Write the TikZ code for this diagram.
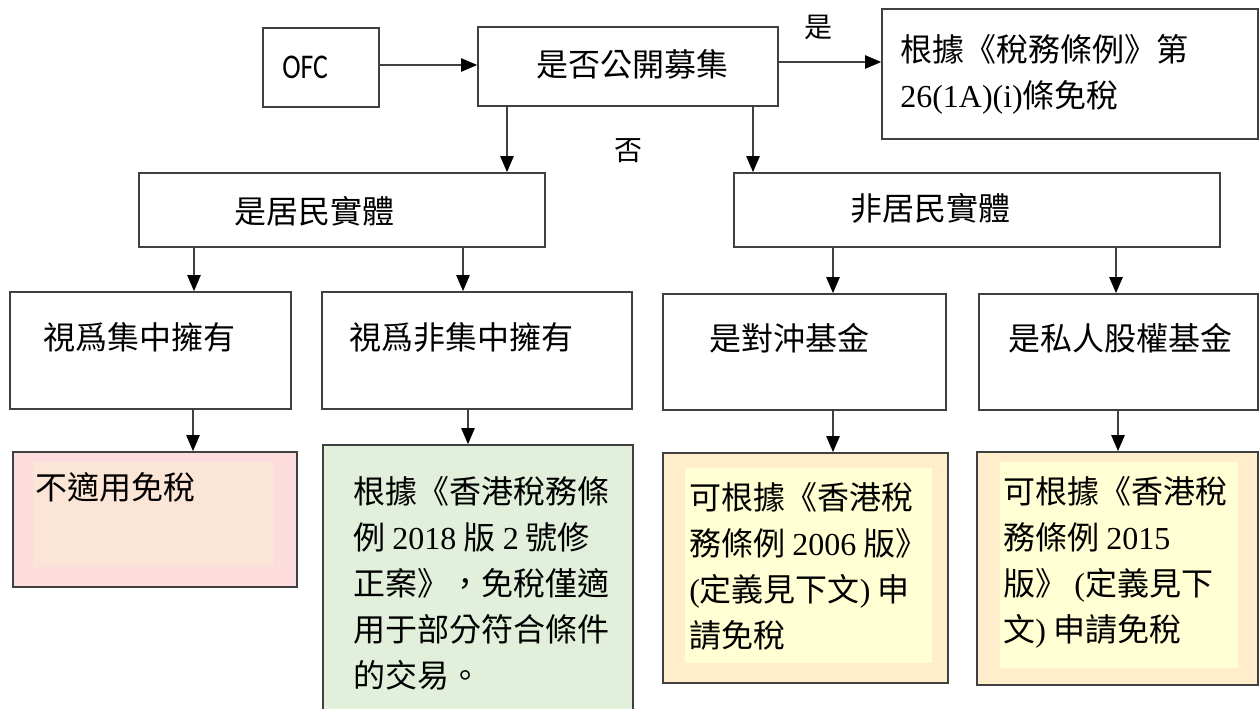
\documentclass[tikz,border=0pt]{standalone}
\usepackage{fontspec}
\setmainfont{Liberation Serif}
\newfontfamily\cjk{Noto Sans CJK TC}
\newfontfamily\ofcfont{Carlito}
\usetikzlibrary{arrows.meta,fit}
\definecolor{linec}{HTML}{404040}
\definecolor{pinkO}{HTML}{FCDCDC}
\definecolor{pinkI}{HTML}{FBE5D6}
\definecolor{greenF}{HTML}{E2EFDA}
\definecolor{yelO}{HTML}{FFEDCB}
\definecolor{yelI}{HTML}{FFFFD3}
\newcommand{\latn}[1]{{\rmfamily #1}}
\begin{document}
\begin{tikzpicture}[x=0.75pt,y=-0.75pt,
  box/.style={draw=linec, line width=1.3pt, inner sep=0pt, rectangle},
  arr/.style={draw=linec, line width=1.1pt, -{Triangle[width=10pt,length=12pt,fill=black,color=black]}},
  txt/.style={inner sep=0pt, font=\cjk\fontsize{24}{34.5}\selectfont, align=left, text=black},
  lbl/.style={inner sep=0pt, font=\cjk\fontsize{21}{25}\selectfont, text=black}]
\useasboundingbox (0,0) rectangle (1260,709);
\fill[white] (0,0) rectangle (1260,709);
% boxes
\node[box, fit={(263,28)(379,107)}] (ofc) {};
\node[box, fit={(478,27)(778,106)}] (pub) {};
\node[box, fit={(882,9)(1258,139)}] (exm) {};
\node[box, fit={(139,173)(545,247)}] (res) {};
\node[box, fit={(734,173)(1220,247)}] (nres) {};
\node[box, fit={(10,292)(291,409)}] (conc) {};
\node[box, fit={(322,292)(632,409)}] (nconc) {};
\node[box, fit={(663,294)(946,410)}] (hedge) {};
\node[box, fit={(979,294)(1258,410)}] (pe) {};
\node[box, fill=pinkO, fit={(13,452)(297,587)}] (na) {};
\fill[pinkI] (33,462) rectangle (273,567);
\node[box, fill=greenF, fit={(323,445)(633,725)}] (part) {};
\node[box, fill=yelO, fit={(663,453)(948,683)}] (app6) {};
\fill[yelI] (685,468) rectangle (932,663);
\node[box, fill=yelO, fit={(977,452)(1258,685)}] (app15) {};
\fill[yelI] (1000,462) rectangle (1238,668);
% texts
\node[txt, anchor=west] (tofc) at (282,67) {\ofcfont\fontsize{26}{30}\selectfont\scalebox{0.8}[1]{OFC}};
\node[txt] (tpub) at (632,64) {是否公開募集};
\node[txt, anchor=north west] (texm) at (900,34) {根據《稅務條例》第\\\latn{26(1A)(i)}條免稅};
\node[txt] (tres) at (314,211) {是居民實體};
\node[txt] (tnres) at (930,208) {非居民實體};
\node[txt, anchor=west] (tconc) at (43,337) {視爲集中擁有};
\node[txt, anchor=west] (tnconc) at (349,337) {視爲非集中擁有};
\node[txt, anchor=west] (thedge) at (709,338) {是對沖基金};
\node[txt, anchor=west] (tpe) at (1008,338) {是私人股權基金};
\node[txt, anchor=west] (tna) at (35,487) {不適用免稅};
\node[txt, anchor=north west] (tpart) at (353,476) {根據《香港稅務條\\例 \latn{2018} 版 \latn{2} 號修\\正案》，免稅僅適\\用于部分符合條件\\的交易。};
\node[txt, anchor=north west] (tapp6) at (689,482) {可根據《香港稅\\務條例 \latn{2006} 版》\\\latn{(}定義見下文\latn{)} 申\\請免稅};
\node[txt, anchor=north west] (tapp15) at (1003,476) {可根據《香港稅\\務條例 \latn{2015}\\版》 \latn{(}定義見下\\文\latn{)} 申請免稅};
\node[lbl] (lyes) at (818,27) {是};
\node[lbl] (lno) at (628,151) {否};
% helper coordinates
\coordinate (ya) at (0,65);
\coordinate (yb) at (0,62);
\coordinate (xa) at (507,0);
\coordinate (xb) at (753,0);
\coordinate (xc) at (194,0);
\coordinate (xd) at (463,0);
\coordinate (xe) at (833,0);
\coordinate (xf) at (1116,0);
\coordinate (xg) at (193,0);
\coordinate (xh) at (468,0);
\coordinate (xi) at (833,0);
\coordinate (xj) at (1118,0);
% connectors
\draw[arr] (ofc.east |- ya) -- (pub.west |- ya);
\draw[arr] (pub.east |- yb) -- (exm.west |- yb);
\draw[arr] (pub.south -| xa) -- (res.north -| xa);
\draw[arr] (pub.south -| xb) -- (nres.north -| xb);
\draw[arr] (res.south -| xc) -- (conc.north -| xc);
\draw[arr] (res.south -| xd) -- (nconc.north -| xd);
\draw[arr] (nres.south -| xe) -- (hedge.north -| xe);
\draw[arr] (nres.south -| xf) -- (pe.north -| xf);
\draw[arr] (conc.south -| xg) -- (na.north -| xg);
\draw[arr] (nconc.south -| xh) -- (part.north -| xh);
\draw[arr] (hedge.south -| xi) -- (app6.north -| xi);
\draw[arr] (pe.south -| xj) -- (app15.north -| xj);
\end{tikzpicture}
\end{document}
